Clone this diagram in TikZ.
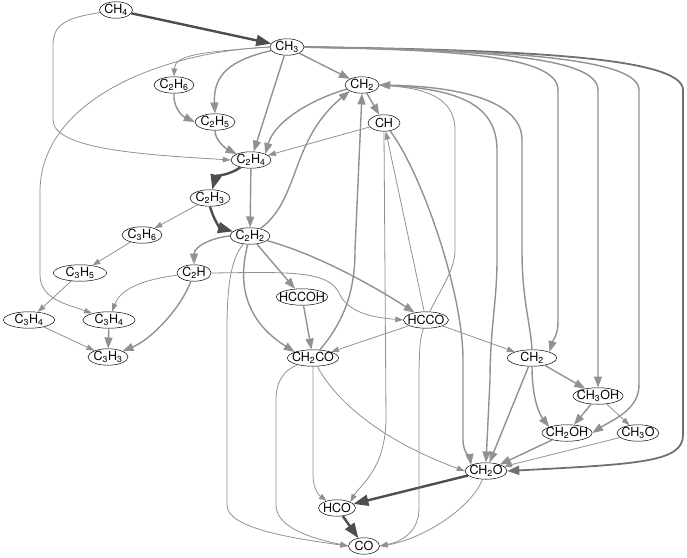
\documentclass[tikz,border=0pt]{standalone}
\usepackage{fontspec}
\setmainfont{TeX Gyre Heros}
\usepackage{xcolor}
\definecolor{edgegray}{RGB}{145,145,145}
\definecolor{heavygray}{RGB}{112,112,112}
\definecolor{majorgray}{RGB}{78,78,78}
\usepackage{tikz}
\usetikzlibrary{shapes.geometric,arrows.meta}

\newcommand{\chsub}[1]{\textsubscript{#1}}

\begin{document}
\begin{tikzpicture}[
  x=1pt, y=-1pt,
  species/.style={ellipse, draw=black, line width=0.5pt, fill=white, font=\fontsize{12.5}{13}\selectfont, inner xsep=-8pt, inner ysep=0pt, minimum height=16.5pt, minimum width=#1},
  species/.default=40pt,
  major/.style={-{Triangle[length=15pt,width=11pt]}, line width=2.4pt, draw=majorgray},
  heavy/.style={-{Triangle[length=12pt,width=9pt]}, line width=1.8pt, draw=heavygray},
  mid/.style={-{Triangle[length=11pt,width=8pt]}, line width=1.4pt, draw=edgegray},
  minor/.style={-{Triangle[length=8pt,width=5.5pt]}, line width=0.8pt, draw=edgegray}
]
\useasboundingbox (0,0) rectangle (687,557);

% species
\node[species=33pt] (ch4) at (116,10) {CH\chsub{4}};
\node[species=34pt] (ch3) at (287,47) {CH\chsub{3}};
\node[species] (c2h6) at (174,85) {C\chsub{2}H\chsub{6}};
\node[species] (c2h5) at (215,122) {C\chsub{2}H\chsub{5}};
\node[species] (c2h4) at (251,160) {C\chsub{2}H\chsub{4}};
\node[species] (c2h3) at (210,198) {C\chsub{2}H\chsub{3}};
\node[species] (c2h2) at (250,236) {C\chsub{2}H\chsub{2}};
\node[species=34pt] (ch2a) at (362,85) {CH\chsub{2}};
\node[species=32pt] (ch) at (384,123) {CH};
\node[species] (c3h6) at (142,235) {C\chsub{3}H\chsub{6}};
\node[species=53pt] (c3h5) at (80,273) {C\chsub{3}H\chsub{5}};
\node[species=34pt] (c2h) at (194,273) {C\chsub{2}H};
\node[species=51pt] (c3h4a) at (29,320) {C\chsub{3}H\chsub{4}};
\node[species=52pt] (c3h4b) at (109,320) {C\chsub{3}H\chsub{4}};
\node[species] (c3h3) at (108,357) {C\chsub{3}H\chsub{3}};
\node[species=51pt] (hccoh) at (302,297) {HCCOH};
\node[species=45pt] (hcco) at (426,320) {HCCO};
\node[species=51pt] (ch2co) at (313,358) {CH\chsub{2}CO};
\node[species=49pt] (ch2b) at (532,358) {CH\chsub{2}};
\node[species=50pt] (ch3oh) at (598,396) {CH\chsub{3}OH};
\node[species=50pt] (ch2oh) at (567,433) {CH\chsub{2}OH};
\node[species=42pt] (ch3o) at (638,433) {CH\chsub{3}O};
\node[species=42pt] (ch2o) at (486,471) {CH\chsub{2}O};
\node[species=37pt] (hco) at (337,508) {HCO};
\node[species=31pt] (co) at (364,546) {CO};

% main channel
\draw[major] (ch4) -- (ch3);
\draw[major] (c2h4) to[out=215,in=75] (c2h3);
\draw[major] (c2h3.south) to[out=-75,in=165] (c2h2);
\draw[major] (ch2o) -- (hco);
\draw[major] (hco) -- (co);

% methyl branches
\draw[minor] (ch4) .. controls (65,18) and (53,25) .. (53,45) -- (53,120) .. controls (53,150) and (150,155) .. (c2h4.west);
\draw[minor] (ch3.west) .. controls (160,52) and (42,100) .. (40,190) -- (40,275) .. controls (40,300) and (70,305) .. (c3h4b);
\draw[minor] (ch3.west) .. controls (200,52) and (175,55) .. (c2h6.north);
\draw[mid] (ch3) .. controls (230,60) and (213,75) .. (c2h5.north);
\draw[mid] (c2h6.south) .. controls (173,105) and (180,115) .. (c2h5.west);
\draw[mid] (c2h5.south) .. controls (215,140) and (225,148) .. (c2h4.north west);
\draw[mid] (ch3) -- (c2h4);
\draw[mid] (ch3) -- (ch2a);
\draw[heavy] (ch3.east) .. controls (500,50) and (683,55) .. (683,90) -- (683,435) .. controls (683,462) and (640,464) .. (ch2o.east);
\draw[mid] (ch3.east) .. controls (480,50) and (639,55) .. (639,90) -- (639,385) .. controls (639,410) and (612,420) .. (ch2oh.east);
\draw[mid] (ch3.east) .. controls (470,50) and (598,55) .. (598,90) -- (ch3oh.north);
\draw[mid] (ch3.east) .. controls (450,50) and (558,55) .. (558,90) -- (558,322) .. controls (558,335) and (553,340) .. (ch2b.north east);

% CH2 and CH
\draw[mid] (ch2a) -- (ch);
\draw[mid] (ch2a) .. controls (315,98) and (275,120) .. (c2h4.north east);
\draw[minor] (ch) -- (c2h4);
\draw[mid] (c2h4) -- (c2h2);
\draw[mid] (c2h2) .. controls (300,200) and (290,140) .. (ch2a.south west);
\draw[mid] (ch2co) .. controls (345,320) and (355,290) .. (355,250) -- (ch2a.south);
\draw[minor] (hcco) .. controls (440,290) and (455,270) .. (455,250) -- (455,130) .. controls (455,95) and (420,88) .. (ch2a.east);
\draw[mid] (ch2b.north) .. controls (530,320) and (522,300) .. (522,250) -- (522,140) .. controls (522,95) and (440,86) .. (ch2a.east);
\draw[mid] (ch2a.east) .. controls (450,88) and (497,100) .. (497,150) -- (497,260) .. controls (497,300) and (490,330) .. (490,380) -- (ch2o.north);
\draw[minor] (hcco) -- (ch);
\draw[minor] (ch.south) -- (386,420) .. controls (385,470) and (360,485) .. (hco.north east);
\draw[mid] (ch) .. controls (420,170) and (463,290) .. (463,360) -- (463,440) .. controls (463,452) and (470,458) .. (ch2o.north west);

% C3 chain
\draw[minor] (c2h3) -- (c3h6);
\draw[minor] (c3h6) -- (c3h5);
\draw[minor] (c3h5) -- (c3h4a);
\draw[minor] (c3h4a) -- (c3h3);
\draw[mid] (c3h4b) -- (c3h3);
\draw[minor] (c2h) .. controls (140,280) and (120,290) .. (c3h4b);
\draw[mid] (c2h) .. controls (180,310) and (150,340) .. (c3h3);

% acetylene
\draw[mid] (c2h2.west) to[out=185,in=90] (c2h.north);
\draw[mid] (c2h2) -- (hccoh);
\draw[mid] (c2h2) .. controls (320,255) and (380,290) .. (hcco);
\draw[mid] (c2h2) .. controls (233,300) and (260,330) .. (ch2co.north west);
\draw[minor] (c2h2) .. controls (230,260) and (227,290) .. (227,330) -- (227,505) .. controls (227,528) and (290,538) .. (co.west);
\draw[minor] (c2h.east) .. controls (290,272) and (330,270) .. (340,295) .. controls (350,315) and (380,318) .. (hcco.west);

% ketene and ketenyl
\draw[mid] (hccoh) -- (ch2co);
\draw[minor] (hcco) -- (ch2co);
\draw[minor] (hcco) -- (ch2b);
\draw[minor] (hcco) .. controls (420,340) .. (419,370) -- (419,508) .. controls (419,533) and (400,542) .. (co.east);
\draw[minor] (ch2co.south) -- (313,475) .. controls (313,490) and (320,496) .. (hco);
\draw[minor] (ch2co) .. controls (285,370) and (276,380) .. (276,400) -- (276,505) .. controls (276,530) and (320,540) .. (co.west);
\draw[minor] (ch2co) .. controls (335,400) and (380,440) .. (ch2o.west);

% oxygenated species
\draw[mid] (ch2b) -- (ch2o);
\draw[mid] (ch2b.south) .. controls (532,400) and (540,415) .. (ch2oh.north west);
\draw[mid] (ch2b) -- (ch3oh);
\draw[mid] (ch3oh) -- (ch2oh);
\draw[minor] (ch3oh) -- (ch3o);
\draw[mid] (ch2oh) -- (ch2o);
\draw[minor] (ch3o) -- (ch2o);
\draw[minor] (ch2o) .. controls (470,510) and (420,540) .. (co.east);
\end{tikzpicture}
\end{document}
